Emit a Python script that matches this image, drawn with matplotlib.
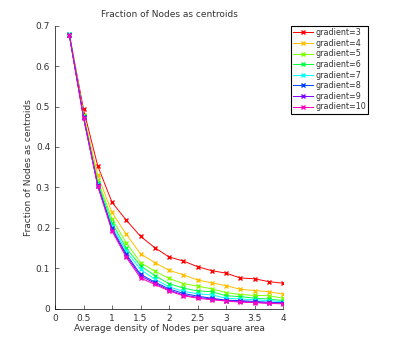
import numpy as np
import matplotlib.pyplot as plt

density = [0.25, 0.5, 0.75, 1.0, 1.25, 1.5, 1.75, 2.0, 2.25, 2.5, 2.75, 3.0, 3.25, 3.5, 3.75, 4.0]
labels = ["gradient=3", "gradient=4", "gradient=5", "gradient=6",
          "gradient=7", "gradient=8", "gradient=9", "gradient=10"]

g3 = [0.680, 0.493, 0.353, 0.263, 0.219, 0.179, 0.151, 0.128, 0.118, 0.104, 0.094, 0.088, 0.076, 0.074, 0.067, 0.063]
g4 = [0.680, 0.480, 0.330, 0.238, 0.184, 0.136, 0.114, 0.095, 0.084, 0.071, 0.064, 0.057, 0.048, 0.045, 0.042, 0.036]
g5 = [0.680, 0.478, 0.318, 0.222, 0.163, 0.114, 0.093, 0.075, 0.062, 0.056, 0.049, 0.040, 0.035, 0.033, 0.032, 0.026]
g6 = [0.680, 0.476, 0.312, 0.212, 0.150, 0.106, 0.082, 0.062, 0.051, 0.044, 0.042, 0.032, 0.030, 0.026, 0.024, 0.020]
g7 = [0.679, 0.475, 0.308, 0.205, 0.142, 0.097, 0.073, 0.054, 0.043, 0.037, 0.034, 0.026, 0.024, 0.022, 0.020, 0.017]
g8 = [0.678, 0.474, 0.306, 0.199, 0.135, 0.085, 0.066, 0.049, 0.038, 0.031, 0.026, 0.021, 0.020, 0.018, 0.016, 0.015]
g9 = [0.678, 0.473, 0.304, 0.195, 0.131, 0.081, 0.063, 0.046, 0.034, 0.028, 0.024, 0.020, 0.018, 0.016, 0.014, 0.014]
g10 = [0.677, 0.472, 0.303, 0.192, 0.127, 0.076, 0.060, 0.044, 0.032, 0.026, 0.022, 0.019, 0.016, 0.015, 0.013, 0.012]
series = [g3, g4, g5, g6, g7, g8, g9, g10]

# matlab hsv(8)
colors = ["#ff0000", "#ffbf00", "#80ff00", "#00ff40",
          "#00ffff", "#0040ff", "#8000ff", "#ff00bf"]

fig = plt.figure(figsize=(4.09, 3.5), dpi=100)
ax = fig.add_axes([0.1345, 0.118, 0.5575, 0.8086])

for y, c, l in zip(series, colors, labels):
    ax.plot(density, y, color=c, marker="x", markersize=3, linewidth=0.7, label=l)

ax.set_xlim(0, 4)
ax.set_ylim(0, 0.7)
ax.set_xticks(np.arange(0, 4.01, 0.5))
ax.set_xticklabels(["0", "0.5", "1", "1.5", "2", "2.5", "3", "3.5", "4"])
ax.set_yticks(np.arange(0, 0.71, 0.1))
ax.set_yticklabels(["0", "0.1", "0.2", "0.3", "0.4", "0.5", "0.6", "0.7"])
ax.tick_params(direction="in", labelsize=6.5, length=3, width=0.5, colors="#333333")
ax.spines["top"].set_visible(False)
ax.spines["right"].set_visible(False)
ax.spines["left"].set_linewidth(0.5)
ax.spines["bottom"].set_linewidth(0.5)

ax.set_title("Fraction of Nodes as centroids", fontsize=6.5, color="#333333")
ax.set_xlabel("Average density of Nodes per square area", fontsize=6.5, color="#333333", labelpad=1)
ax.set_ylabel("Fraction of Nodes as centroids", fontsize=6.5, color="#333333", labelpad=2)

leg = ax.legend(loc="upper left", bbox_to_anchor=(1.035, 1.0), fontsize=5.8,
                fancybox=False, framealpha=1, borderpad=0.3, labelspacing=0.2,
                handlelength=2.4, handletextpad=0.3, borderaxespad=0)
leg.get_frame().set_edgecolor("black")
leg.get_frame().set_linewidth(0.8)
for t in leg.get_texts():
    t.set_color("#333333")

fig.savefig("out.png", dpi=100)
